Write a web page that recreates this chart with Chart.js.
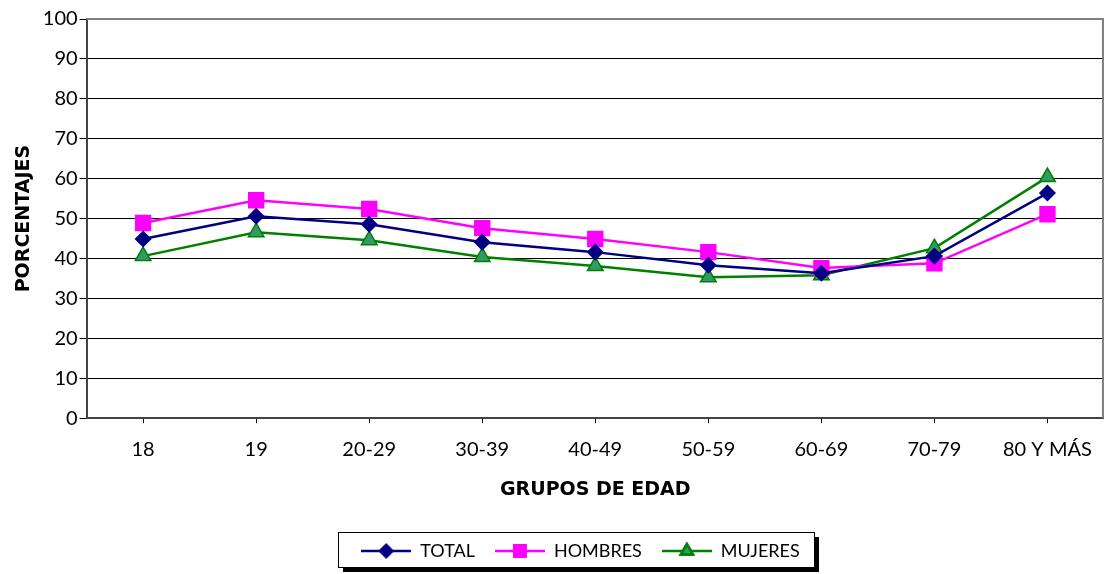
<!DOCTYPE html>
<html>
<head>
<meta charset="utf-8">
<script src="https://cdn.jsdelivr.net/npm/chart.js@4.4.1/dist/chart.umd.min.js"></script>
<style>
  html, body { margin: 0; padding: 0; background: #fff; overflow: hidden; }
  #wrap { width: 1106px; height: 574px; position: relative; }
  canvas { display: block; }
</style>
</head>
<body>
<div id="wrap"><canvas id="grafico"></canvas></div>
<script>
// datos
var grupos = ["18", "19", "20-29", "30-39", "40-49", "50-59", "60-69", "70-79", "80 Y MÁS"];
var total = [44.9, 50.6, 48.6, 44.1, 41.6, 38.3, 36.3, 40.6, 56.4];
var hombres = [48.9, 54.6, 52.4, 47.6, 44.9, 41.6, 37.6, 38.8, 51.1];
var mujeres = [40.6, 46.6, 44.6, 40.4, 38.1, 35.3, 35.8, 42.6, 60.4];
var ticksY = [0, 10, 20, 30, 40, 50, 60, 70, 80, 90, 100];

var fuente = "Lato, 'DejaVu Sans', sans-serif";
var fuenteTitulo = "'DejaVu Sans', Verdana, sans-serif";

// icono de la leyenda: linea con el marcador en medio
function iconoLeyenda(color, fill, estilo, radio) {
    var c = document.createElement('canvas');
    c.width = 50;
    c.height = 18;
    var ctx = c.getContext('2d');
    ctx.strokeStyle = color;
    ctx.lineWidth = 2.5;
    ctx.beginPath();
    ctx.moveTo(0, 9);
    ctx.lineTo(50, 9);
    ctx.stroke();
    Chart.helpers.drawPoint(ctx, {pointStyle: estilo, radius: radio, borderWidth: 1.5, rotation: 0}, 25, 9);
    ctx.fillStyle = fill;
    ctx.fill();
    ctx.stroke();
    return c;
}

var series = [
    {label: "TOTAL", data: total, color: "#000080", fill: "#000080", estilo: "rectRot", radio: 7.5, radioLey: 6},
    {label: "HOMBRES", data: hombres, color: "#FF00FF", fill: "#FF00FF", estilo: "rect", radio: 10.5, radioLey: 8},
    {label: "MUJERES", data: mujeres, color: "#008000", fill: "#339966", estilo: "triangle", radio: 9, radioLey: 7}
];

var datasets = series.map(function (s) {
    return {
        label: s.label,
        data: s.data,
        borderColor: s.color,
        backgroundColor: s.fill,
        borderWidth: 2.5,
        pointStyle: s.estilo,
        pointRadius: s.radio,
        pointHoverRadius: s.radio,
        pointBackgroundColor: s.fill,
        pointBorderColor: s.color,
        pointBorderWidth: 1.5,
        tension: 0
    };
});

var desplazamiento = 22;

// caja de la leyenda con sombra, y la leyenda un poco a la derecha
var cajaLeyenda = {
    id: 'cajaLeyenda',
    afterUpdate: function (chart) {
        var lg = chart.legend;
        lg.left += desplazamiento;
        lg.right += desplazamiento;
        (lg.legendHitBoxes || []).forEach(function (hb) { hb.left += desplazamiento; });
    },
    beforeDraw: function (chart) {
        var hb = chart.legend.legendHitBoxes;
        if (!hb || !hb.length) return;
        var ctx = chart.ctx;
        var x0 = Math.round(hb[0].left - 23);
        var last = hb[hb.length - 1];
        var x1 = Math.round(last.left + last.width + 14);
        var y0 = Math.round(hb[0].top + hb[0].height / 2 - 19);
        var h = 35;
        ctx.save();
        ctx.fillStyle = '#000';
        ctx.fillRect(x0 + 5, y0 + 5, x1 - x0, h);
        ctx.fillStyle = '#fff';
        ctx.fillRect(x0, y0, x1 - x0, h);
        ctx.strokeStyle = '#000';
        ctx.lineWidth = 1;
        ctx.strokeRect(x0 + 0.5, y0 + 0.5, x1 - x0, h);
        ctx.restore();
    },
    afterDraw: function (chart) {
        // borde gris arriba y a la derecha del area
        var a = chart.chartArea;
        var ctx = chart.ctx;
        ctx.save();
        ctx.strokeStyle = '#808080';
        ctx.lineWidth = 2;
        ctx.beginPath();
        ctx.moveTo(a.left, a.top);
        ctx.lineTo(a.right - 1, a.top);
        ctx.lineTo(a.right - 1, a.bottom);
        ctx.stroke();
        ctx.restore();
    }
};

var ctx = document.getElementById('grafico');

var grafico = new Chart(ctx, {
    type: 'line',
    data: {
        labels: grupos,
        datasets: datasets
    },
    plugins: [cajaLeyenda],
    options: {
        responsive: true,
        maintainAspectRatio: false,
        animation: false,
        layout: {
            autoPadding: false,
            padding: {top: 19, right: 2, left: 13, bottom: 4}
        },
        plugins: {
            tooltip: {enabled: false},
            legend: {
                position: 'bottom',
                labels: {
                    usePointStyle: true,
                    pointStyleWidth: 50,
                    boxHeight: 18,
                    padding: 20,
                    color: '#000',
                    font: {family: fuente, size: 18},
                    generateLabels: function (chart) {
                        return series.map(function (s, i) {
                            return {
                                text: s.label,
                                datasetIndex: i,
                                pointStyle: iconoLeyenda(s.color, s.fill, s.estilo, s.radioLey),
                                fillStyle: s.fill,
                                strokeStyle: s.color,
                                lineWidth: 0,
                                fontColor: '#000',
                                hidden: false
                            };
                        });
                    }
                }
            }
        },
        scales: {
            x: {
                offset: true,
                grid: {
                    display: true,
                    offset: false,
                    drawOnChartArea: false,
                    drawTicks: true,
                    tickLength: 5,
                    color: '#000'
                },
                border: {display: true, color: '#444', width: 2},
                ticks: {
                    color: '#000',
                    padding: 14,
                    maxRotation: 0,
                    autoSkip: false,
                    font: {family: fuente, size: 20}
                },
                title: {
                    display: true,
                    text: 'GRUPOS DE EDAD',
                    color: '#000',
                    padding: {top: 3, bottom: 21},
                    font: {family: fuenteTitulo, size: 19, weight: 'bold'}
                }
            },
            y: {
                min: 0,
                max: 100,
                afterBuildTicks: function (axis) {
                    axis.ticks = ticksY.map(function (v) { return {value: v}; });
                },
                grid: {
                    color: '#000',
                    lineWidth: 1,
                    drawTicks: true,
                    tickLength: 7
                },
                border: {display: true, color: '#444', width: 2},
                ticks: {
                    color: '#000',
                    padding: 2,
                    font: {family: fuente, size: 20}
                },
                title: {
                    display: true,
                    text: 'PORCENTAJES',
                    color: '#000',
                    padding: {top: 0, bottom: 5},
                    font: {family: fuenteTitulo, size: 19, weight: 'bold'}
                }
            }
        }
    }
});
</script>
</body>
</html>
